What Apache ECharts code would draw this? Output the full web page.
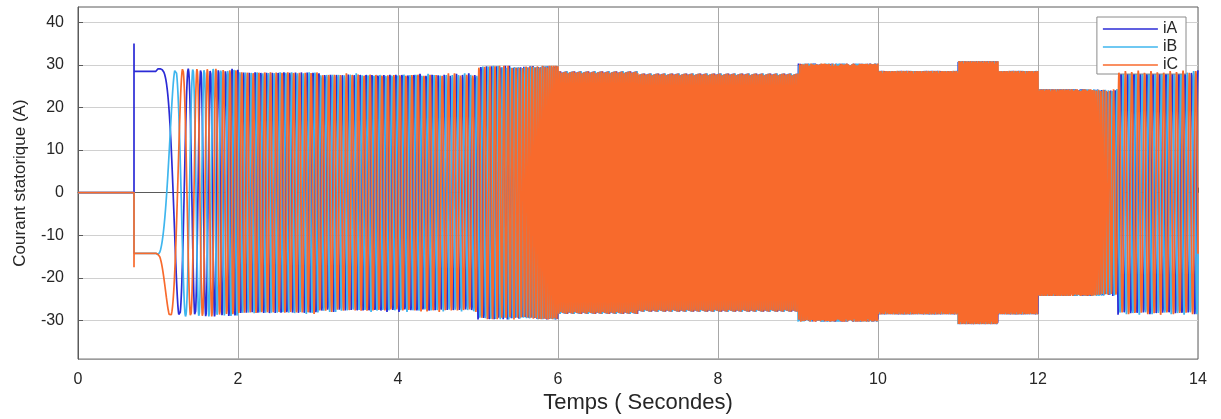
<!DOCTYPE html>
<html><head><meta charset="utf-8">
<script src="https://cdn.jsdelivr.net/npm/echarts@6/dist/echarts.min.js"></script>
<style>html,body{margin:0;padding:0;background:#fff}#c{width:1221px;height:419px}</style>
</head><body><div id="c"></div>
<script>
// ---- values ----
const seriesNames = ['iA', 'iB', 'iC'];
const phaseShiftDeg = [0, -120, 120];          // three-phase currents
const switchOnTime = 0.7;                       // s, currents are zero before
const spikeValues = [35, -14.3, -17.5];         // A, value at the switch-on instant
// envelope (peak current, A), holding from each time (s) until the next
const envTime = [0.7, 1.0, 2.0, 3.0, 5.0, 6.0, 7.0, 9.0, 10.0, 11.0, 11.5, 12.0, 13.0];
const envAmp  = [28.5, 29.1, 28.5, 28.0, 29.8, 28.5, 28.0, 30.3, 28.6, 30.9, 28.6, 24.3, 28.7];
// stator frequency (Hz) at break times (s)
const freqTime = [0, 1.0, 1.5, 2.0, 5.0, 5.5, 6.0, 9.0, 10.0, 12.4, 13.0, 14.0];
const freqHz   = [0, 0, 7, 14, 13, 22, 40, 40, 70, 70, 12.5, 12.5];
const xTicks = [0, 2, 4, 6, 8, 10, 12, 14];
const yTicks = [-30, -20, -10, 0, 10, 20, 30, 40];
const xRange = [0, 14];
const yRange = [-39.1, 43.6];

// ---- build the traces from the read envelope and frequency ----
function freqAt(t) {
  for (let i = 0; i < freqTime.length - 1; i++) {
    if (t <= freqTime[i + 1]) {
      const u = (t - freqTime[i]) / (freqTime[i + 1] - freqTime[i]);
      return freqHz[i] + u * (freqHz[i + 1] - freqHz[i]);
    }
  }
  return freqHz[freqHz.length - 1];
}
function ampAt(t) {
  let a = envAmp[0];
  for (let i = 0; i < envTime.length; i++) if (t >= envTime[i]) a = envAmp[i];
  return a;
}
const dt = 0.0007;
const traces = seriesNames.map(() => [[xRange[0], 0], [switchOnTime, 0]]);
traces.forEach((tr, k) => tr.push([switchOnTime, spikeValues[k]]));
let theta = 0, fPrev = freqAt(switchOnTime);
for (let t = switchOnTime + dt; t <= xRange[1] + 1e-9; t += dt) {
  const f = freqAt(t);
  theta += Math.PI * (f + fPrev) * dt;
  fPrev = f;
  const a = ampAt(t);
  for (let k = 0; k < 3; k++) {
    traces[k].push([t, a * Math.cos(theta + phaseShiftDeg[k] * Math.PI / 180)]);
  }
}

const colors = ['#2b2bd6', '#3fb6ee', '#f86a2c'];
const font = 'Liberation Sans';
const chart = echarts.init(document.getElementById('c'), null, {renderer: 'canvas'});
chart.setOption({
  animation: false,
  backgroundColor: '#fff',
  grid: {left: 78, right: 23, top: 7, bottom: 57, show: true, borderColor: '#5a5a5a', borderWidth: 1, backgroundColor: 'transparent'},
  legend: {
    data: seriesNames, orient: 'vertical', right: 35, top: 17,
    backgroundColor: '#fff', borderColor: '#8a8a8a', borderWidth: 1,
    padding: [4, 8, 1, 6], itemWidth: 55, itemHeight: 1.5, itemGap: 2, icon: 'rect',
    textStyle: {fontFamily: font, fontSize: 16, color: '#262626'}
  },
  xAxis: {
    type: 'value', min: xRange[0], max: xRange[1], interval: 2,
    name: 'Temps ( Secondes)', nameLocation: 'middle', nameGap: 31,
    nameTextStyle: {fontFamily: font, fontSize: 22, color: '#262626'},
    axisLine: {show: true, lineStyle: {color: '#5a5a5a', width: 1}},
    axisTick: {show: true, inside: true, length: 5, lineStyle: {color: '#5a5a5a'}},
    axisLabel: {fontFamily: font, fontSize: 16, color: '#262626', margin: 12,
      formatter: v => xTicks.includes(v) ? String(v) : ''},
    splitLine: {show: true, lineStyle: {color: '#a8a8a8', width: 1}}
  },
  yAxis: {
    type: 'value', min: yRange[0], max: yRange[1],
    name: 'Courant statorique (A)', nameLocation: 'middle', nameGap: 49,
    nameTextStyle: {fontFamily: font, fontSize: 17, color: '#262626'},
    axisLine: {show: true, lineStyle: {color: '#5a5a5a', width: 1}},
    axisTick: {show: true, inside: true, length: 5, customValues: yTicks, lineStyle: {color: '#5a5a5a'}},
    axisLabel: {fontFamily: font, fontSize: 16, color: '#262626', margin: 14, customValues: yTicks},
    splitLine: {show: true, lineStyle: {color: '#d0d0d0', width: 1}}
  },
  series: seriesNames.map((n, k) => ({
    name: n, type: 'line', data: traces[k], showSymbol: false, symbol: 'none',
    lineStyle: {color: colors[k], width: 1.7}, itemStyle: {color: colors[k]},
    clip: true, silent: true, z: 2 + k
  }))
});
</script></body></html>
